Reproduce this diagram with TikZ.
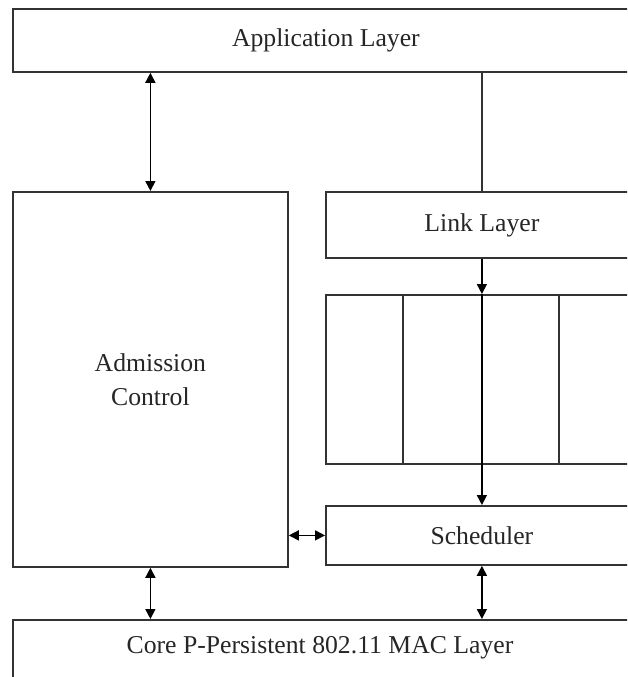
\documentclass[tikz,border=0pt]{standalone}
\usepackage{fontspec}
\setmainfont{Liberation Serif}
\usetikzlibrary{arrows.meta,calc}
\begin{document}
\begin{tikzpicture}[x=1pt,y=-1pt,
  layerbox/.style={draw=black!80, line width=1.8pt, fill=white, anchor=north west,
    inner sep=0pt, align=center, text=black!85,
    font=\fontsize{25.7}{34}\selectfont},
  wire/.style={draw=black!80, line width=1.6pt},
  link/.style={draw=black, line width=1.6pt,
    {Triangle[length=10pt,width=10pt]}-{Triangle[length=10pt,width=10pt]}},
  oneway/.style={draw=black, line width=1.6pt, -{Triangle[length=10pt,width=10pt]}}]
  \useasboundingbox (0,0) rectangle (627,677);
  \clip (0,0) rectangle (627,677);

  % layers and blocks
  \node[layerbox, minimum width=626pt, minimum height=63pt] (app) at (12,8) {Application Layer};
  \node[layerbox, minimum width=275pt, minimum height=375pt] (adm) at (12,191) {Admission\\Control};
  \node[layerbox, minimum width=312pt, minimum height=66pt] (lnk) at (325,191) {Link Layer};
  \node[layerbox, minimum width=312pt, minimum height=169pt] (queue) at (325,294) {};
  \node[layerbox, minimum width=312pt, minimum height=59pt] (sched) at (325,505) {Scheduler};
  \node[layerbox, minimum width=616pt, minimum height=80pt] (mac) at (12,619) {};
  \node[font=\fontsize{25.7}{34}\selectfont, text=black!85, inner sep=0pt] (mactext) at (320,648) {Core P-Persistent 802.11 MAC Layer};

  % queue slots
  \coordinate (slotA) at (403,0);
  \coordinate (slotB) at (559,0);
  \draw[wire] (slotA |- queue.north) -- (slotA |- queue.south);
  \draw[wire] (slotB |- queue.north) -- (slotB |- queue.south);

  % connectors
  \draw[link] (adm.north |- app.south) -- (adm.north);
  \draw[wire] (lnk.north |- app.south) -- (lnk.north);
  \draw[oneway] (lnk.south) -- (queue.north);
  \draw[oneway] (queue.north) -- (sched.north);
  \draw[link] (adm.east |- sched.west) -- (sched.west);
  \draw[link] (adm.south) -- (adm.south |- mac.north);
  \draw[link] (sched.south) -- (sched.south |- mac.north);
\end{tikzpicture}
\end{document}
